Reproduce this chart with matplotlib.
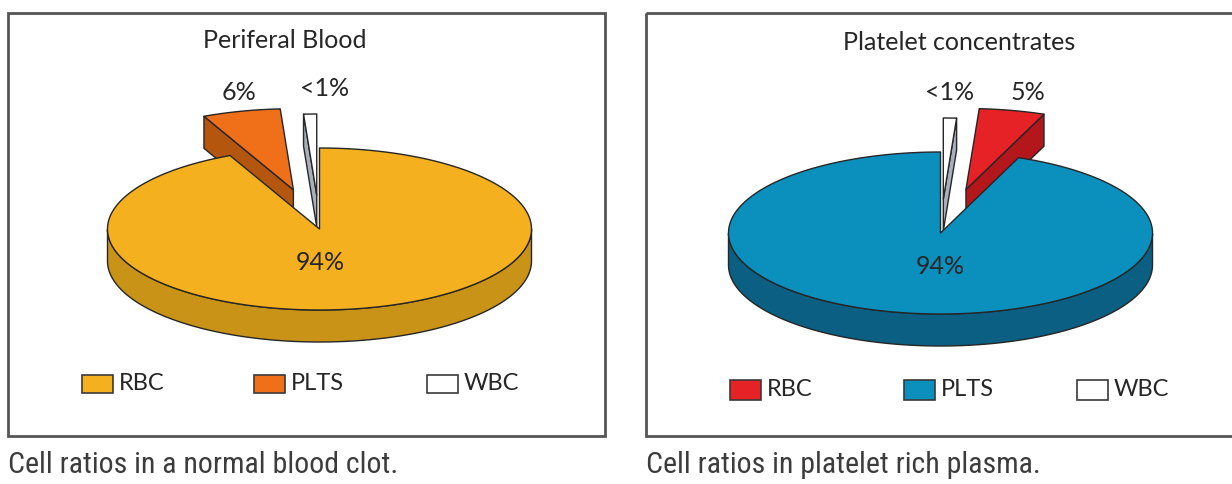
import numpy as np
import matplotlib.pyplot as plt
from matplotlib.patches import Polygon, Rectangle
from matplotlib import font_manager

# left chart: peripheral blood
left_title = 'Periferal Blood'
left_caption = 'Cell ratios in a normal blood clot.'
left_order = ['RBC', 'PLTS', 'WBC']          # clockwise from 12 o'clock
left_values = [94, 6, 1]
left_labels = ['94%', '6%', '<1%']
left_explode = [0.0, 0.5, 0.42]
left_top = {'RBC': '#F4B01E', 'PLTS': '#F0701A', 'WBC': '#FFFFFF'}
left_side = {'RBC': '#C99318', 'PLTS': '#B5560E', 'WBC': '#A9AFBA'}

# right chart: platelet concentrates
right_title = 'Platelet concentrates'
right_caption = 'Cell ratios in platelet rich plasma.'
right_order = ['WBC', 'RBC', 'PLTS']
right_values = [1, 5, 94]
right_labels = ['<1%', '5%', '94%']
right_explode = [0.42, 0.55, 0.0]
right_top = {'RBC': '#E62227', 'PLTS': '#0B90BE', 'WBC': '#FFFFFF'}
right_side = {'RBC': '#B3161B', 'PLTS': '#0A5F82', 'WBC': '#A9AFBA'}

legend_names = ['RBC', 'PLTS', 'WBC']

EDGE = '#262626'
TXT = '#262626'

# narrowest installed family for the captions
installed = {f.name for f in font_manager.fontManager.ttflist}
cap_family = 'DejaVu Sans'
cap_size = 17
for fam, size in (('Roboto Condensed', 21.5), ('Liberation Sans Narrow', 23),
                  ('DejaVu Sans Condensed', 19)):
    if fam in installed:
        cap_family, cap_size = fam, size
        break


def pie3d(ax, values, names, top, side, explode, cx, cy, rx, ry, depth):
    fr = np.array(values, dtype=float) / np.sum(values)
    ends = 90 - 360 * np.cumsum(fr)
    starts = ends + 360 * fr
    mids = np.radians((starts + ends) / 2)
    order = np.argsort(-np.sin(mids))        # back slices first
    for i in order:
        a, b = np.radians(ends[i]), np.radians(starts[i])
        ox = explode[i] * rx * np.cos(mids[i])
        oy = -explode[i] * ry * np.sin(mids[i])
        c = np.array([cx + ox, cy + oy])

        def pt(t, drop=0.0):
            return np.column_stack([c[0] + rx * np.cos(t), c[1] - ry * np.sin(t) + drop])

        kw = dict(edgecolor=EDGE, linewidth=1.0, joinstyle='round')
        # radial cut faces
        for t, vis in ((b, np.cos(b) < -1e-3), (a, np.cos(a) > 1e-3)):
            if vis:
                p = pt(np.array([t]))[0]
                poly = [c, p, p + [0, depth], c + [0, depth]]
                ax.add_patch(Polygon(poly, closed=True, facecolor=side[names[i]], **kw))
        # outer wall
        t = np.linspace(a, b, 600)
        t = t[np.sin(t) < 0]
        if len(t) > 1:
            poly = np.vstack([pt(t), pt(t[::-1], depth)])
            ax.add_patch(Polygon(poly, closed=True, facecolor=side[names[i]], **kw))
        # top face
        t = np.linspace(a, b, 400)
        poly = np.vstack([c, pt(t)])
        ax.add_patch(Polygon(poly, closed=True, facecolor=top[names[i]], **kw))


def legend(ax, y, xs, colors, h):
    for name, x in zip(legend_names, xs):
        ax.add_patch(Rectangle((x, y - h / 2), 31, h, facecolor=colors[name],
                               edgecolor='#3a3a3a', linewidth=1.2))
        ax.text(x + 37, y, name, fontsize=17, family=['Lato', 'DejaVu Sans'],
                color=TXT, va='center', ha='left')


fig = plt.figure(figsize=(12.32, 4.84), dpi=100)
ax = fig.add_axes([0, 0, 1, 1])
ax.set_xlim(0, 1232)
ax.set_ylim(484, 0)
ax.axis('off')

# frames
ax.add_patch(Rectangle((8, 13), 597, 423, fill=False, edgecolor='#555555', linewidth=2))
ax.add_patch(Rectangle((646, 13), 600, 423, fill=False, edgecolor='#555555', linewidth=2))

pie3d(ax, left_values, left_order, left_top, left_side, left_explode,
      319.5, 229, 212, 81, 32)
pie3d(ax, right_values, right_order, right_top, right_side, right_explode,
      940.5, 233, 212, 81, 32)

lab = dict(fontsize=18, family=['Lato', 'DejaVu Sans'], color=TXT, ha='center', va='center')
ax.text(285, 40, left_title, **lab)
ax.text(959, 42, right_title, **lab)
ax.text(239, 92, left_labels[1], **lab)
ax.text(325, 89, left_labels[2], **lab)
ax.text(320, 263, left_labels[0], **lab)
ax.text(950, 93, right_labels[0], **lab)
ax.text(1028, 93, right_labels[1], **lab)
ax.text(940, 267, right_labels[2], **lab)

legend(ax, 384, [82, 254, 427], left_top, 18)
legend(ax, 390, [730, 904, 1077], right_top, 20)

cap = dict(fontsize=cap_size, family=[cap_family, 'DejaVu Sans'],
           color='#3c3c3c', ha='left', va='baseline')
ax.text(8, 473, left_caption, **cap)
ax.text(646, 473, right_caption, **cap)

fig.savefig('out.png', dpi=100)
